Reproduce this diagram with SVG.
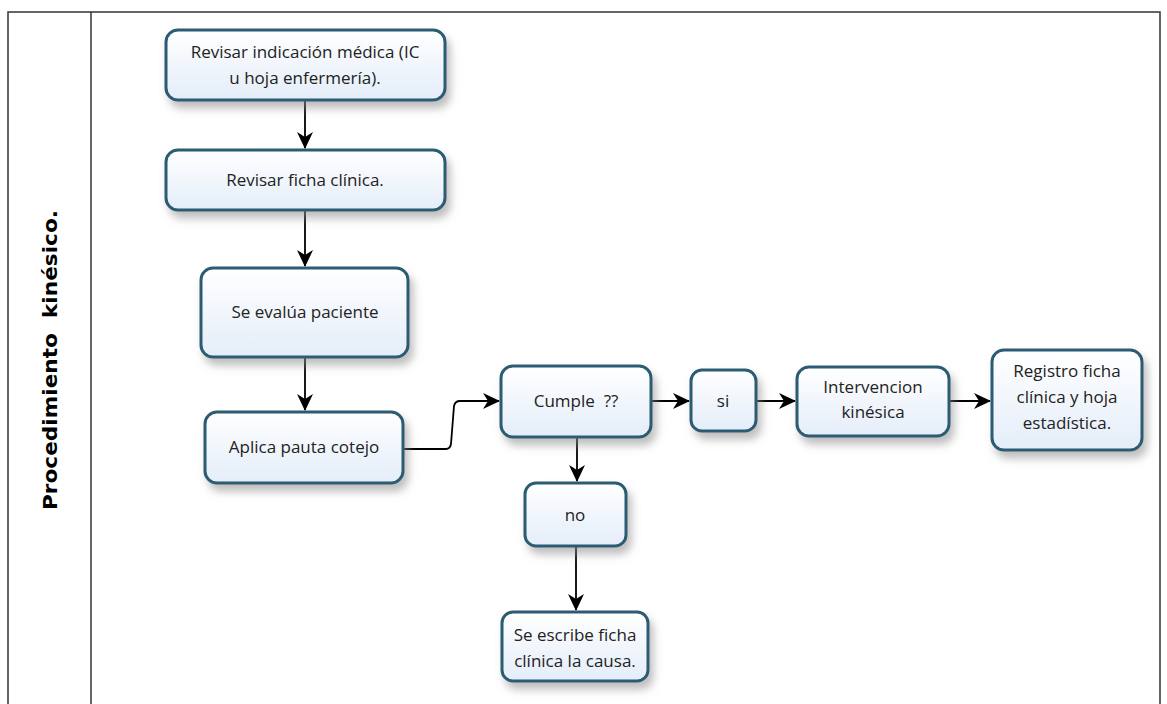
<svg xmlns="http://www.w3.org/2000/svg" width="1167" height="704" viewBox="0 0 1167 704">
<style>
.node rect{fill:url(#g);stroke:#2c5b73;stroke-width:3;filter:url(#sh)}
.node text{font-family:"Open Sans","Liberation Sans",sans-serif;font-size:17px;fill:#222;text-anchor:middle}
.conn path{fill:none;stroke:#000;stroke-width:1.8;marker-end:url(#ah)}
.lane{font-family:"DejaVu Sans","Liberation Sans",sans-serif;font-weight:bold;font-size:19px;fill:#000}
</style>
<defs>
<linearGradient id="g" x1="0" y1="0" x2="0" y2="1">
<stop offset="0" stop-color="#ffffff"/>
<stop offset="1" stop-color="#e4edf9"/>
</linearGradient>
<filter id="sh" x="-20%" y="-20%" width="150%" height="170%">
<feDropShadow dx="4" dy="7" stdDeviation="4" flood-color="#888" flood-opacity="0.55"/>
</filter>
<marker id="ah" markerWidth="18" markerHeight="16" refX="16" refY="8" orient="auto" markerUnits="userSpaceOnUse">
<path d="M0,0 L17,8 L0,16 L5,8 z" fill="#000"/>
</marker>
</defs>
<rect width="1167" height="704" fill="#fff"/>
<g id="frame" fill="none" stroke="#333" stroke-width="1.5">
<path d="M8,720 V12 H1160 V720"/>
<path d="M91,12 V720"/>
</g>
<text class="lane" transform="translate(57,360) rotate(-90)" text-anchor="middle" textLength="300" lengthAdjust="spacingAndGlyphs" xml:space="preserve">Procedimiento  kinésico.</text>
<g class="conn">
<path d="M305,100 V148"/>
<path d="M305,210 V266"/>
<path d="M305,357 V410"/>
<path d="M403,449 H446 Q450,449 451,444 L454,406 Q455,401 460,401 H499"/>
<path d="M651,401 H689"/>
<path d="M756,401 H795"/>
<path d="M949,401 H990"/>
<path d="M577,437 V481"/>
<path d="M576,546 V610"/>
</g>
<g id="n1" class="node"><rect x="166" y="30" width="279" height="70" rx="12"/><text x="305" y="58">Revisar indicación médica (IC</text><text x="305" y="84">u hoja enfermería).</text></g>
<g id="n2" class="node"><rect x="166" y="150" width="279" height="60" rx="12"/><text x="305" y="186">Revisar ficha clínica.</text></g>
<g id="n3" class="node"><rect x="201" y="268" width="207" height="89" rx="12"/><text x="305" y="318">Se evalúa paciente</text></g>
<g id="n4" class="node"><rect x="205" y="412" width="198" height="71" rx="12"/><text x="304" y="453">Aplica pauta cotejo</text></g>
<g id="n5" class="node"><rect x="501" y="366" width="150" height="71" rx="12"/><text x="576" y="407" xml:space="preserve">Cumple  ??</text></g>
<g id="n6" class="node"><rect x="691" y="370" width="65" height="61" rx="11"/><text x="723" y="407">si</text></g>
<g id="n7" class="node"><rect x="797" y="367" width="152" height="69" rx="12"/><text x="873" y="393">Intervencion</text><text x="873" y="418">kinésica</text></g>
<g id="n8" class="node"><rect x="992" y="350" width="150" height="100" rx="12"/><text x="1067" y="377">Registro ficha</text><text x="1067" y="403">clínica y hoja</text><text x="1067" y="429">estadística.</text></g>
<g id="n9" class="node"><rect x="525" y="483" width="101" height="63" rx="11"/><text x="575" y="521">no</text></g>
<g id="n10" class="node"><rect x="502" y="612" width="146" height="69" rx="11"/><text x="575" y="641">Se escribe ficha</text><text x="575" y="667">clínica la causa.</text></g>
</svg>
